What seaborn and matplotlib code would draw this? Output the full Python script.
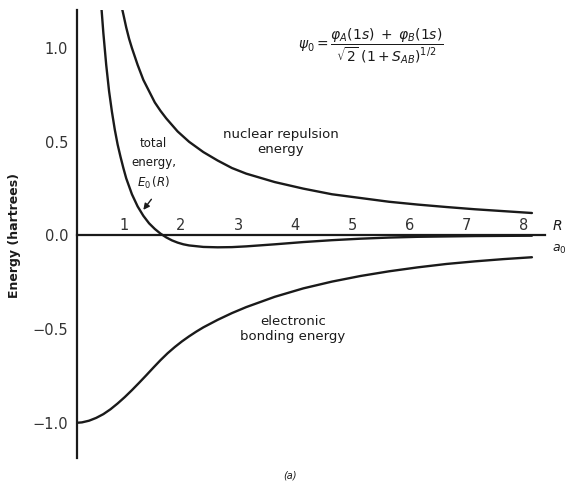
import matplotlib
matplotlib.use("Agg")
import matplotlib.pyplot as plt
import seaborn as sns

# internuclear distance R (bohr) and energies (hartrees)
r_nuc = [0.78, 0.82, 0.85, 0.9, 0.95, 1.0, 1.1, 1.2, 1.3, 1.4, 1.5, 1.6, 1.8, 2.0, 2.25,
         2.5, 2.75, 3.0, 3.5, 4.0, 4.5, 5.0, 5.5, 6.0, 6.5, 7.0, 7.5, 8.0]
e_nuc = [1.28, 1.22, 1.18, 1.11, 1.05, 1.00, 0.91, 0.83, 0.77, 0.71, 0.665, 0.625, 0.555,
         0.50, 0.445, 0.40, 0.36, 0.33, 0.285, 0.25, 0.22, 0.20, 0.18, 0.165, 0.152,
         0.14, 0.13, 0.12]

r_tot = [0.44, 0.47, 0.5, 0.55, 0.6, 0.65, 0.7, 0.75, 0.8, 0.85, 0.9, 1.0, 1.1, 1.2, 1.3,
         1.4, 1.5, 1.6, 1.7, 1.8, 1.9, 2.0, 2.25, 2.5, 2.75, 3.0, 3.5, 4.0, 4.5, 5.0,
         5.5, 6.0, 7.0, 8.0]
e_tot = [1.33, 1.20, 1.08, 0.91, 0.77, 0.66, 0.565, 0.485, 0.42, 0.36, 0.305, 0.22, 0.155,
         0.105, 0.065, 0.035, 0.01, -0.01, -0.026, -0.038, -0.047, -0.053, -0.061,
         -0.063, -0.062, -0.058, -0.047, -0.035, -0.025, -0.017, -0.011, -0.007,
         -0.003, -0.001]

r_el = [0.0, 0.125, 0.25, 0.375, 0.5, 0.625, 0.75, 0.875, 1.0, 1.125, 1.25, 1.375, 1.5,
        1.625, 1.75, 1.875, 2.0, 2.125, 2.25, 2.5, 2.75, 3.0, 3.5, 4.0, 4.5, 5.0, 5.5,
        6.0, 6.5, 7.0, 7.5, 8.0]
e_el = [-1.00, -0.997, -0.988, -0.973, -0.953, -0.927, -0.896, -0.862, -0.825, -0.786,
        -0.746, -0.705, -0.665, -0.628, -0.595, -0.565, -0.538, -0.513, -0.490, -0.450,
        -0.414, -0.382, -0.327, -0.282, -0.246, -0.216, -0.191, -0.170, -0.152, -0.138,
        -0.126, -0.116]

x_ticks = [1, 2, 3, 4, 5, 6, 7, 8]
y_ticks = [-1.0, -0.5, 0.0, 0.5, 1.0]
y_labels = ["\u22121.0", "\u22120.5", "0.0", "0.5", "1.0"]

sns.set_style("white")
plt.rcParams["font.family"] = ["DejaVu Sans"]
ink = "#1a1a1a"

fig = plt.figure(figsize=(5.7, 4.84), dpi=100)
ax = fig.add_axes([76.5 / 570, 26 / 484, 468 / 570, 448 / 484])

for xs, ys in [(r_nuc, e_nuc), (r_tot, e_tot), (r_el, e_el)]:
    sns.lineplot(x=xs, y=ys, ax=ax, color=ink, linewidth=1.7, sort=False)

ax.set_xlim(0.03, 8.22)
ax.set_ylim(-1.187, 1.203)

# axes: left spine full height, horizontal axis through zero
for s in ["top", "right"]:
    ax.spines[s].set_visible(False)
ax.spines["bottom"].set_position(("data", 0))
for s in ["left", "bottom"]:
    ax.spines[s].set_color(ink)
    ax.spines[s].set_linewidth(1.6)

ax.set_yticks(y_ticks)
ax.set_yticklabels(y_labels)
ax.tick_params(axis="y", direction="in", length=10, width=1.4, color=ink,
               labelsize=10.5, labelcolor="#333333", pad=6)
ax.set_xticks(x_ticks)
ax.set_xticklabels([])
ax.tick_params(axis="x", direction="in", length=8, width=1.2, color=ink)
for t in x_ticks:
    ax.text(t - 0.06, 0.015, str(t), ha="right", va="bottom", fontsize=10.5,
            color="#333333")

# axis end label R / a0
fig.text(557 / 570, 1 - 226 / 484, "$R$", ha="center", va="center", fontsize=10, color=ink)
fig.text(559 / 570, 1 - 249 / 484, "$a_0$", ha="center", va="center", fontsize=9, color=ink)

fig.text(15 / 570, 1 - 236 / 484, "Energy (hartrees)", rotation=90, ha="center",
         va="center", fontsize=9, fontweight="bold", color=ink)

# curve annotations
ax.text(3.6, 0.50, "nuclear repulsion\nenergy", ha="center", va="center",
        fontsize=9.5, color=ink, linespacing=1.2)
ax.text(1.38, 0.38, "total\nenergy,\n$E_0\\,(R)$", ha="center", va="center",
        fontsize=8.5, color=ink, linespacing=1.55)
ax.annotate("", xy=(1.17, 0.125), xytext=(1.37, 0.205),
            arrowprops=dict(arrowstyle="-|>", color=ink, lw=1.0, mutation_scale=9))
ax.text(3.82, -0.50, "electronic\nbonding energy", ha="center", va="center",
        fontsize=9.5, color=ink, linespacing=1.15)

fig.text(298 / 570, 1 - 46 / 484, r"$\psi_0 = \dfrac{\varphi_A(1s)\; + \;\varphi_B(1s)}"
         r"{\sqrt{2}\;(1 + S_{AB})^{1/2}}$", ha="left", va="center", fontsize=10, color=ink)

fig.text(290 / 570, 1 - 476 / 484, "(a)", ha="center", va="center", fontsize=7,
         style="italic", color=ink)

fig.savefig("out.png", dpi=100)
plt.close(fig)
